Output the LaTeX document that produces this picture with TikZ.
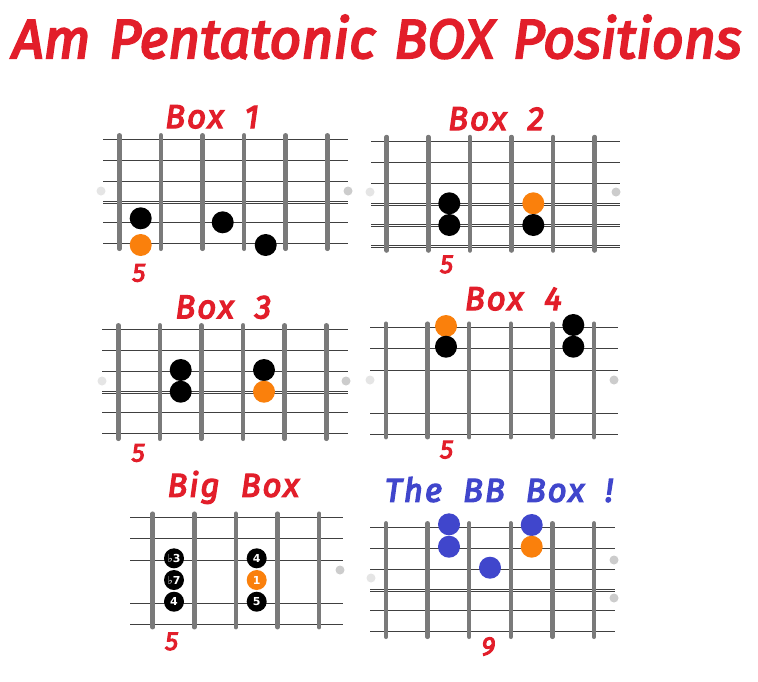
\documentclass[tikz,border=0pt]{standalone}
\usepackage{fontspec}
\usepackage{xcolor}
\usepackage{tikz}
\usetikzlibrary{positioning}
\newfontfamily\HandFont{Fira Sans}[ItalicFeatures={FakeBold=4}, WordSpace=2]
\newfontfamily\HeadFont{Fira Sans}[ItalicFeatures={FakeBold=4}, WordSpace=1.3]
\newfontfamily\NoteFont{DejaVu Sans}
\definecolor{TitleRed}{RGB}{226,30,42}
\definecolor{RootOrange}{RGB}{250,128,12}
\definecolor{BBBlue}{RGB}{64,70,204}
\definecolor{FretGray}{RGB}{122,122,122}
\tikzset{
  FretBar/.style={line width=4.5pt, draw=FretGray, line cap=round},
  ThinString/.style={line width=0.8pt, draw=black!75},
  ThickString/.style={line width=0.6pt, draw=black!75, double=white, double distance=1.6pt},
  MarkDot/.style={circle, fill=black!20, minimum size=9pt, inner sep=0pt},
  NoteDot/.style={circle, fill=black, minimum size=22pt, inner sep=0pt},
  RootDot/.style={NoteDot, fill=RootOrange},
  BlueDot/.style={NoteDot, fill=BBBlue},
  SmallDot/.style={NoteDot, minimum size=20pt, text=white, font=\NoteFont\bfseries\fontsize{11}{11}\selectfont},
  BoxTitle/.style={anchor=base, text=TitleRed, font=\HandFont\itshape\fontsize{33}{36}\selectfont\addfontfeatures{LetterSpace=6}},
  FretNumber/.style={anchor=base, text=TitleRed, font=\HandFont\itshape\fontsize{26}{28}\selectfont},
}
\newcommand{\FretBoard}[5]{%
  \foreach \s in {0,1,2} \draw[ThinString] (#1,#3+21.1*\s) -- (#2,#3+21.1*\s);
  \foreach \s in {3,4,5} \draw[ThickString] (#1,#3+21.1*\s) -- (#2,#3+21.1*\s);
  \foreach \f in {0,...,#5} \draw[FretBar] (#4+41.6*\f,#3-4) -- (#4+41.6*\f,#3+109.5);
}

\begin{document}
\begin{tikzpicture}[x=1pt,y=-1pt]
\useasboundingbox (0,0) rectangle (758,681);
\fill[white] (0,0) rectangle (758,681);
\node[anchor=base, text=TitleRed, font=\HeadFont\itshape\fontsize{55}{58}\selectfont\addfontfeatures{LetterSpace=0.5}] (HEAD) at (377,58) {Am Pentatonic BOX Positions};

\FretBoard{103}{348}{139.3}{119.3}{5}
\node[MarkDot, fill=black!10] (M1a) at (101,191) {};
\node[MarkDot] (M1b) at (348,191) {};
\node[BoxTitle] (B1) at (212,128) {Box 1};
\node[NoteDot] (B1N1) at (140.7,218.3) {};
\node[RootDot] (B1N2) at (140.7,245) {};
\node[NoteDot] (B1N3) at (222.7,222.3) {};
\node[NoteDot] (B1N4) at (265.7,245) {};
\node[FretNumber] (B1F) at (139,281.5) {5};

\FretBoard{371}{620}{141}{386.7}{5}
\node[MarkDot, fill=black!10] (M2a) at (370,192) {};
\node[MarkDot] (M2b) at (616,192) {};
\node[BoxTitle] (B2) at (496,130) {Box 2};
\node[NoteDot] (B2N1) at (449.3,203.3) {};
\node[NoteDot] (B2N2) at (449.3,225) {};
\node[RootDot] (B2N3) at (533.3,203.3) {};
\node[NoteDot] (B2N4) at (533.3,225) {};
\node[FretNumber] (B2F) at (446.7,273) {5};

\FretBoard{102}{348}{329.3}{118.3}{5}
\node[MarkDot, fill=black!10] (M3a) at (102,381) {};
\node[MarkDot] (M3b) at (346,381) {};
\node[BoxTitle] (B3) at (223.3,318.3) {Box 3};
\node[NoteDot] (B3N1) at (180.7,370) {};
\node[NoteDot] (B3N2) at (180.7,391.7) {};
\node[NoteDot] (B3N3) at (264,370) {};
\node[RootDot] (B3N4) at (264,391.7) {};
\node[FretNumber] (B3F) at (138.3,461.5) {5};

\FretBoard{370}{618}{327.7}{386}{5}
\node[MarkDot, fill=black!10] (M4a) at (370,380) {};
\node[MarkDot] (M4b) at (614,380) {};
\node[BoxTitle] (B4) at (513.3,310) {Box 4};
\node[RootDot] (B4N1) at (446,326) {};
\node[NoteDot] (B4N2) at (446,346.7) {};
\node[NoteDot] (B4N3) at (573.3,325) {};
\node[NoteDot] (B4N4) at (573.3,346.7) {};
\node[FretNumber] (B4F) at (446.7,458.3) {5};

\FretBoard{130}{343}{517.7}{152.7}{4}
\node[MarkDot] (M5b) at (340,570) {};
\node[BoxTitle] (B5) at (233.3,496.7) {Big Box};
\node[SmallDot] (B5N1) at (174,558.3) {♭3};
\node[SmallDot] (B5N2) at (174,580) {♭7};
\node[SmallDot] (B5N3) at (174,601.7) {4};
\node[SmallDot] (B5N4) at (256.7,558.3) {4};
\node[SmallDot, fill=RootOrange] (B5N5) at (256.7,580) {1};
\node[SmallDot] (B5N6) at (256.7,601.7) {5};
\node[FretNumber] (B5F) at (171.7,650) {5};

\FretBoard{370}{615}{527.3}{386}{5}
\node[MarkDot, fill=black!10] (M6a) at (371,578) {};
\node[MarkDot] (M6b) at (614,560) {};
\node[MarkDot] (M6c) at (614,598) {};
\node[BoxTitle, text=BBBlue] (B6) at (499,501.7) {The BB Box !};
\node[BlueDot] (B6N1) at (449,524.3) {};
\node[BlueDot] (B6N2) at (449,546.7) {};
\node[BlueDot] (B6N3) at (490,567.7) {};
\node[BlueDot] (B6N4) at (531.7,525) {};
\node[RootDot] (B6N5) at (531.7,546.7) {};
\node[FretNumber] (B6F) at (488.3,655) {9};
\end{tikzpicture}
\end{document}
